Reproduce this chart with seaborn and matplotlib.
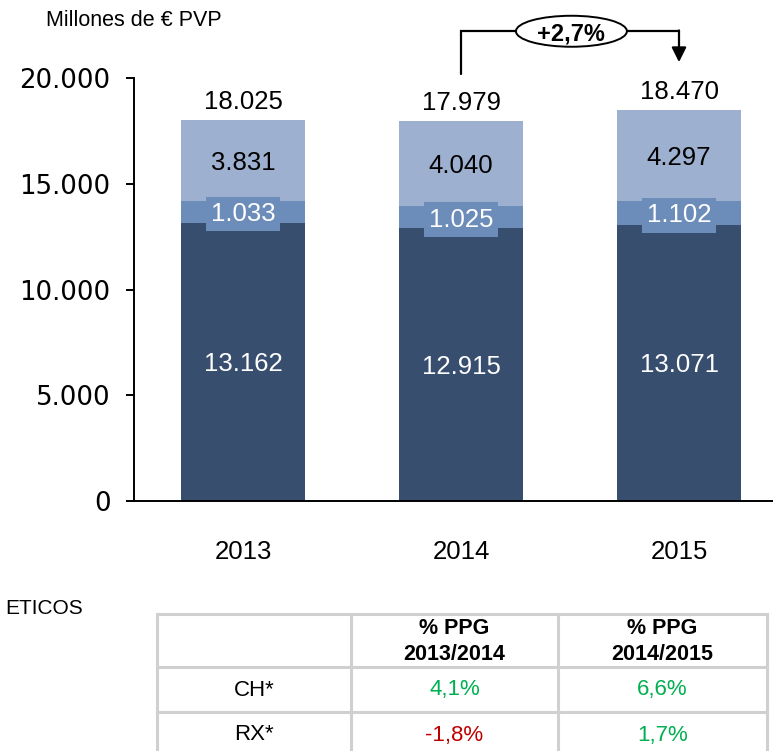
import matplotlib
matplotlib.use("Agg")
import matplotlib.pyplot as plt
import seaborn as sns
import pandas as pd
from matplotlib.patches import Ellipse
from matplotlib.ticker import FuncFormatter

# ---- data ----
years = ["2013", "2014", "2015"]
dark_vals = [13162, 12915, 13071]
mid_vals = [1033, 1025, 1102]
light_vals = [3831, 4040, 4297]
totals = [18025, 17979, 18470]
growth_label = "+2,7%"

table_head1 = ["", "% PPG", "% PPG"]
table_head2 = ["", "2013/2014", "2014/2015"]
table_rows = ["CH*", "RX*"]
table_vals = [["4,1%", "6,6%"], ["-1,8%", "1,7%"]]
table_pos = [[True, True], [False, True]]

DARK = "#384E6F"
MID = "#6C8CB9"
LIGHT = "#9DB0CF"
GREEN = "#00B050"
RED = "#C00000"
GRID = "#D0D0D0"

sns.set_theme(style="white")
plt.rcParams["font.family"] = ["Liberation Sans", "DejaVu Sans"]

def fmt(v):
    return f"{int(round(v)):,}".replace(",", ".")

df = pd.DataFrame({
    "year": years,
    "dark": dark_vals,
    "mid": mid_vals,
    "light": light_vals,
})
df["cum_mid"] = df["dark"] + df["mid"]
df["cum_all"] = df["cum_mid"] + df["light"]

W, H = 773, 751
fig = plt.figure(figsize=(W / 100, H / 100), dpi=100)
ax = fig.add_axes([134 / W, 1 - 501 / H, 1 - 134 / W, (501 - 78) / H])

bw = 0.57
sns.barplot(data=df, x="year", y="cum_all", order=years, color=LIGHT, saturation=1, width=bw, ax=ax, linewidth=0)
sns.barplot(data=df, x="year", y="cum_mid", order=years, color=MID, saturation=1, width=bw, ax=ax, linewidth=0)
sns.barplot(data=df, x="year", y="dark", order=years, color=DARK, saturation=1, width=bw, ax=ax, linewidth=0)

ax.set_ylim(0, 20000)
ax.set_xlim(-0.5, 2 + (W - 679) / 218)
ax.set_yticks([0, 5000, 10000, 15000, 20000])
ax.yaxis.set_major_formatter(FuncFormatter(lambda v, p: fmt(v)))
ax.set_xlabel("")
ax.set_ylabel("")
for s in ["top", "right"]:
    ax.spines[s].set_visible(False)
for s in ["left", "bottom"]:
    ax.spines[s].set_color("black")
    ax.spines[s].set_linewidth(1.4)
ax.tick_params(axis="y", which="both", left=True, length=6, width=1.4, color="black",
               labelsize=18.7, pad=11, labelcolor="black")
for lab in ax.get_yticklabels():
    lab.set_fontfamily("DejaVu Sans")
ax.tick_params(axis="x", bottom=False, labelsize=18.5, pad=22, labelcolor="black")

for i in range(len(years)):
    d, m, l, t = dark_vals[i], mid_vals[i], light_vals[i], totals[i]
    ax.text(i, d / 2, fmt(d), ha="center", va="center_baseline", color="white", fontsize=18.5)
    ax.text(i, d + m / 2, fmt(m), ha="center", va="center_baseline", color="white", fontsize=18.5,
            bbox=dict(boxstyle="square,pad=0.2", fc=MID, ec="none"))
    ax.text(i, d + m + l / 2, fmt(l), ha="center", va="center_baseline", color="black", fontsize=18.5)
    ax.annotate(fmt(t), xy=(i, df["cum_all"][i]), xytext=(0, 8), textcoords="offset points",
                ha="center", va="baseline", fontsize=18.5, color="black")

# growth bracket
y_top = 22210
ax.plot([1, 1, 1.252], [20180, y_top, y_top], color="black", lw=1.6, clip_on=False,
        solid_joinstyle="miter")
ax.plot([1.761, 2], [y_top, y_top], color="black", lw=1.6, clip_on=False,
        solid_joinstyle="miter")
ax.annotate("", xy=(2, 20750), xytext=(2, y_top + 40), annotation_clip=False,
            arrowprops=dict(arrowstyle="-|>", mutation_scale=22, lw=1.6, color="black",
                            shrinkA=0, shrinkB=0))
ell = Ellipse((1.5065, y_top), width=0.509, height=1465, fc="white", ec="black", lw=1.4,
              clip_on=False)
ax.add_patch(ell)
ax.text(1.5065, y_top, growth_label, ha="center", va="center_baseline", fontsize=17,
        fontweight="bold", color="black", clip_on=False)

fig.text(46 / W, 1 - 21 / H, "Millones de € PVP", ha="left", va="center", fontsize=15.5,
         color="black")
fig.text(5 / W, 1 - 608 / H, "ETICOS", ha="left", va="center", fontsize=15, color="black")

# ---- table ----
tax = fig.add_axes([0, 0, 1, 1], facecolor="none")
tax.set_xlim(0, W)
tax.set_ylim(H, 0)
tax.axis("off")
xs = [157, 351, 558, 767]
ys = [614, 667, 712]
for x in xs:
    tax.plot([x, x], [614, H + 5], color=GRID, lw=2.2, clip_on=False, solid_capstyle="butt")
for y in ys:
    tax.plot([xs[0], xs[-1]], [y, y], color=GRID, lw=2.2, solid_capstyle="projecting")

for j in range(3):
    if table_head1[j]:
        cx = (xs[j] + xs[j + 1]) / 2
        tax.text(cx, 629, table_head1[j], ha="center", va="center", fontsize=15.5,
                 fontweight="bold", color="black")
        tax.text(cx, 655, table_head2[j], ha="center", va="center", fontsize=15.5,
                 fontweight="bold", color="black")
row_y = [690, 735]
for r, name in enumerate(table_rows):
    tax.text((xs[0] + xs[1]) / 2, row_y[r], name, ha="center", va="center", fontsize=16,
             color="black")
    for j in range(2):
        cx = (xs[j + 1] + xs[j + 2]) / 2
        tax.text(cx, row_y[r], table_vals[r][j], ha="center", va="center", fontsize=16,
                 color=GREEN if table_pos[r][j] else RED)

fig.savefig("out.png", dpi=100)
